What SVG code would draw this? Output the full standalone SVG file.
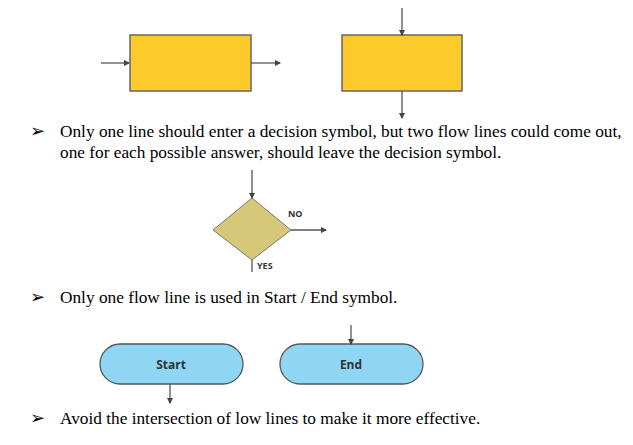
<svg xmlns="http://www.w3.org/2000/svg" width="633" height="445" viewBox="0 0 633 445">
<defs><marker id="a" viewBox="0 0 6 6" refX="5" refY="3" markerWidth="5" markerHeight="5" orient="auto"><path d="M0,0L6,3L0,6z" fill="#444"/></marker></defs>
<style>
.p{fill:#fdca2b;stroke:#666;stroke-width:1.5}
.c{stroke:#555;stroke-width:1.3;fill:none}
.t{font-family:"Liberation Serif",serif;font-size:17.3px;fill:#000}
.s{font-family:"Open Sans","Liberation Sans",sans-serif;font-weight:bold;fill:#333}
.b{font-family:"DejaVu Sans",sans-serif;font-size:18px}
</style>
<rect width="633" height="445" fill="#fff"/>
<g id="proc1"><rect class="p" x="130" y="35" width="121" height="56"/></g>
<g id="proc2"><rect class="p" x="342" y="35" width="120" height="56"/></g>
<g id="decision"><path d="M252,198L291,230L252,260L213,230z" fill="#d6c878" stroke="#777" stroke-width="1"/></g>
<g id="start"><rect x="100" y="344" width="143" height="40" rx="20" fill="#8fd6f4" stroke="#555" stroke-width="1.3"/><text class="s" x="171" y="369" font-size="12" text-anchor="middle">Start</text></g>
<g id="end"><rect x="280" y="344" width="143" height="40" rx="20" fill="#8fd6f4" stroke="#555" stroke-width="1.3"/><text class="s" x="351" y="369" font-size="12" text-anchor="middle">End</text></g>
<g id="connectors">
<path class="c" d="M101,63H129" marker-end="url(#a)"/>
<path class="c" d="M251,63H280" marker-end="url(#a)"/>
<path class="c" d="M402,8V35" marker-end="url(#a)"/>
<path class="c" d="M402,91V118" marker-end="url(#a)"/>
<path class="c" d="M252,170V198" marker-end="url(#a)"/>
<path class="c" d="M291,230H326" marker-end="url(#a)"/>
<path class="c" d="M252,260V272"/>
<path class="c" d="M170,384V403" marker-end="url(#a)"/>
<path class="c" d="M351,325V344" marker-end="url(#a)"/>
</g>
<text class="s" x="288" y="217" font-size="9">NO</text>
<text class="s" x="257" y="269" font-size="9">YES</text>
<text class="b" x="30" y="137">➢</text>
<text class="t" x="60" y="137">Only one line should enter a decision symbol, but two flow lines could come out,</text>
<text class="t" x="60" y="158">one for each possible answer, should leave the decision symbol.</text>
<text class="b" x="30" y="303">➢</text>
<text class="t" x="60" y="303">Only one flow line is used in Start / End symbol.</text>
<text class="b" x="30" y="424">➢</text>
<text class="t" x="60" y="424">Avoid the intersection of low lines to make it more effective.</text>
</svg>
